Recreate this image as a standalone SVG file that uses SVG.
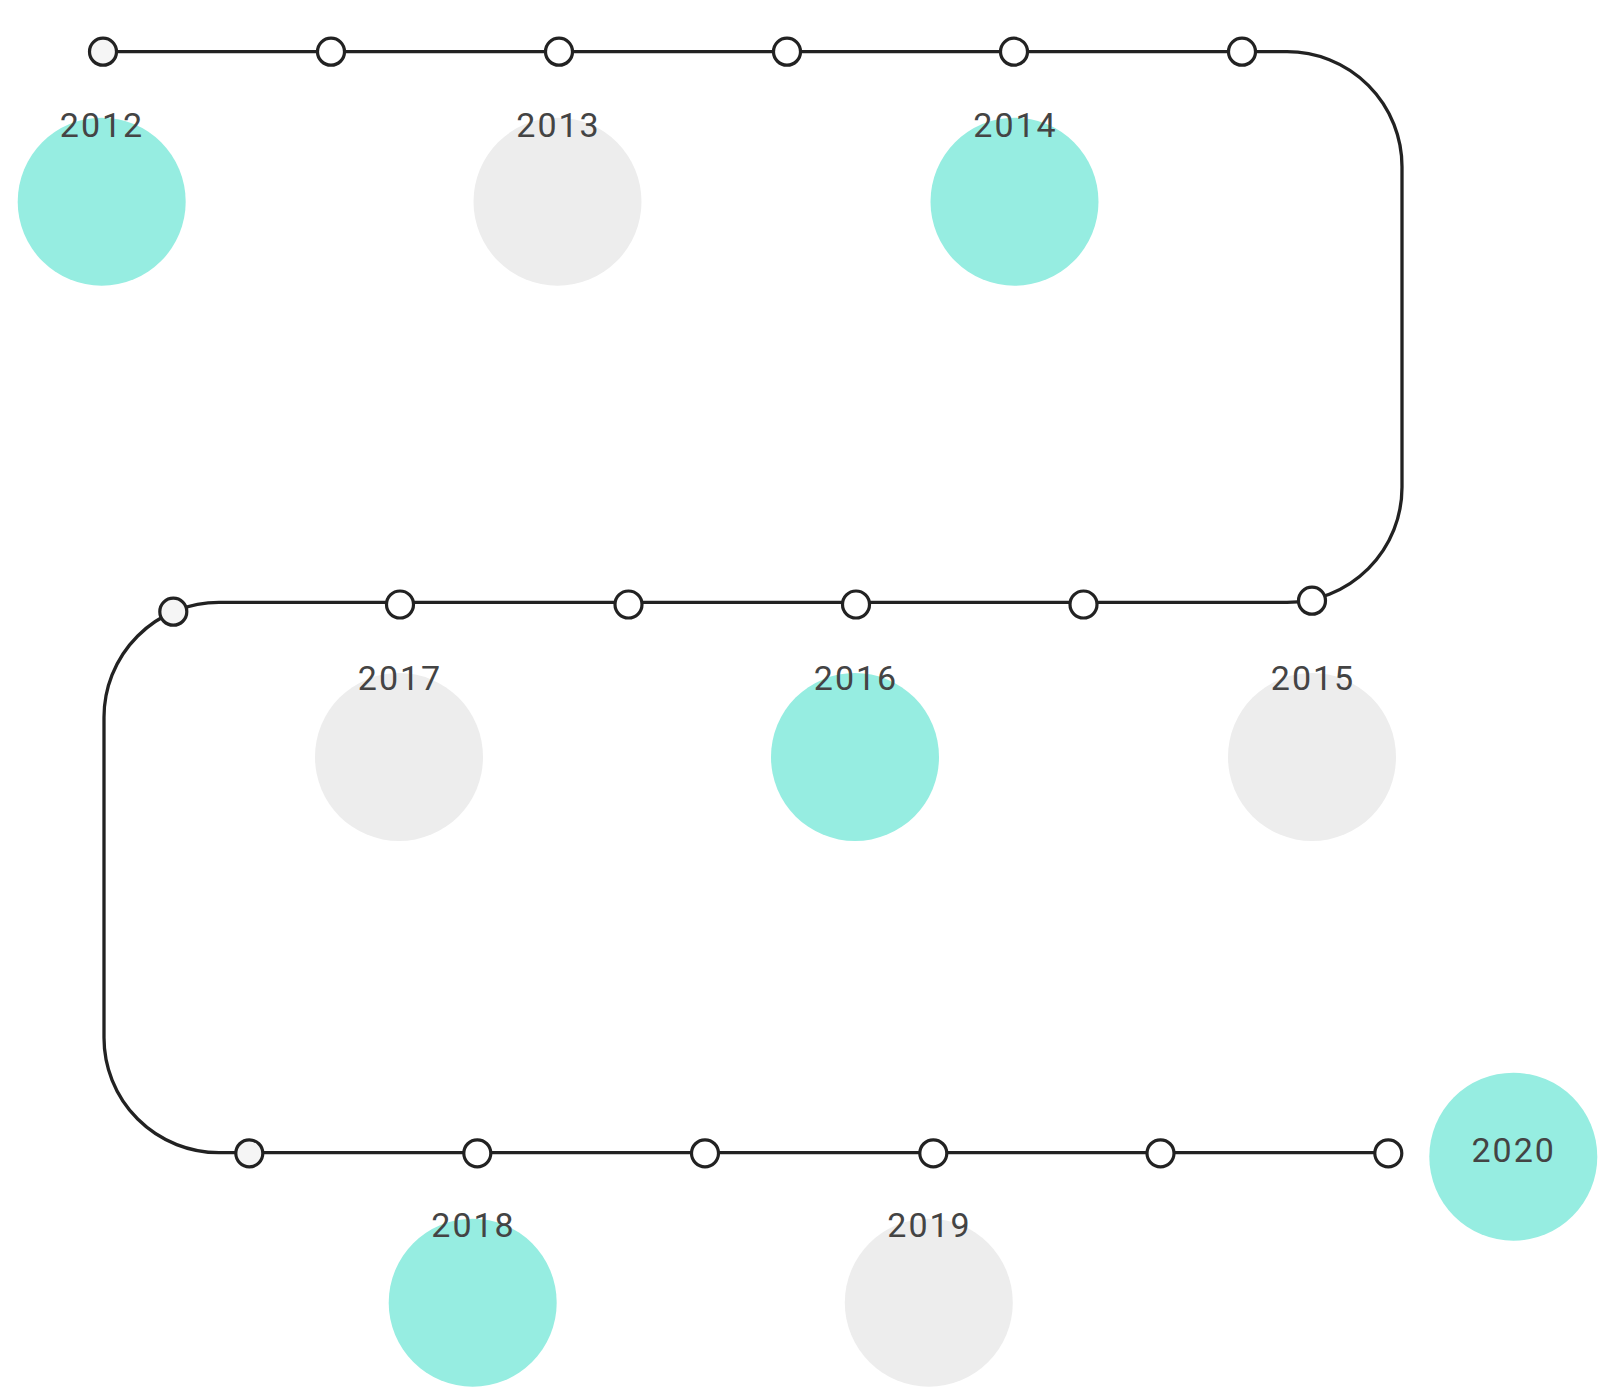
<svg xmlns="http://www.w3.org/2000/svg" width="1607" height="1400" viewBox="0 0 1607 1400">
<style>
.teal{fill:#96ede1}
.gray{fill:#ededed}
.lbl{font-family:Roboto,"Liberation Sans",sans-serif;font-size:34px;letter-spacing:2px;fill:#444;text-anchor:middle}
.dot{fill:#ffffff;stroke:#222;stroke-width:3.2}
.first{fill:#f5f5f5}
.track{fill:none;stroke:#222;stroke-width:3.3}
</style>
<rect width="1607" height="1400" fill="#ffffff"/>
<g id="connectors">
<path class="track" d="M103 51.7 H1287 A115 115 0 0 1 1402 166.7 V487.3 A115 115 0 0 1 1287 602.3 H219 A115 115 0 0 0 104 717.3 V1037.7 A115 115 0 0 0 219 1152.7 H1388"/>
</g>
<g id="year-2012"><circle class="teal" cx="101.7" cy="201.7" r="84"/><text class="lbl" x="102" y="136.7">2012</text></g>
<g id="year-2013"><circle class="gray" cx="557.5" cy="201.7" r="84"/><text class="lbl" x="558.5" y="136.7">2013</text></g>
<g id="year-2014"><circle class="teal" cx="1014.5" cy="201.7" r="84"/><text class="lbl" x="1015.5" y="136.7">2014</text></g>
<g id="year-2015"><circle class="gray" cx="1312" cy="757" r="84"/><text class="lbl" x="1313" y="690">2015</text></g>
<g id="year-2016"><circle class="teal" cx="855" cy="757" r="84"/><text class="lbl" x="856" y="690">2016</text></g>
<g id="year-2017"><circle class="gray" cx="399" cy="757" r="84"/><text class="lbl" x="400" y="690">2017</text></g>
<g id="year-2018"><circle class="teal" cx="472.7" cy="1302.7" r="84"/><text class="lbl" x="473.5" y="1237.3">2018</text></g>
<g id="year-2019"><circle class="gray" cx="928.8" cy="1302.7" r="84"/><text class="lbl" x="929.5" y="1237.3">2019</text></g>
<g id="year-2020"><circle class="teal" cx="1513.3" cy="1156.7" r="84"/><text class="lbl" x="1513.7" y="1161.7">2020</text></g>
<g id="stops">
<circle class="dot first" cx="103" cy="51.7" r="13.5"/>
<circle class="dot" cx="331" cy="51.7" r="13.5"/>
<circle class="dot" cx="559" cy="51.7" r="13.5"/>
<circle class="dot" cx="787" cy="51.7" r="13.5"/>
<circle class="dot" cx="1014" cy="51.7" r="13.5"/>
<circle class="dot" cx="1242" cy="51.7" r="13.5"/>
<circle class="dot" cx="1312" cy="600.7" r="13.5"/>
<circle class="dot" cx="1083.5" cy="604.5" r="13.5"/>
<circle class="dot" cx="856" cy="604.5" r="13.5"/>
<circle class="dot" cx="628.5" cy="604.5" r="13.5"/>
<circle class="dot" cx="400" cy="604.5" r="13.5"/>
<circle class="dot first" cx="173.3" cy="611.7" r="13.5"/>
<circle class="dot first" cx="249.3" cy="1153.3" r="13.5"/>
<circle class="dot" cx="477.3" cy="1153.3" r="13.5"/>
<circle class="dot" cx="705" cy="1153.3" r="13.5"/>
<circle class="dot" cx="933.3" cy="1153.3" r="13.5"/>
<circle class="dot" cx="1160.5" cy="1153.3" r="13.5"/>
<circle class="dot" cx="1388.3" cy="1153.3" r="13.5"/>
</g>
</svg>
